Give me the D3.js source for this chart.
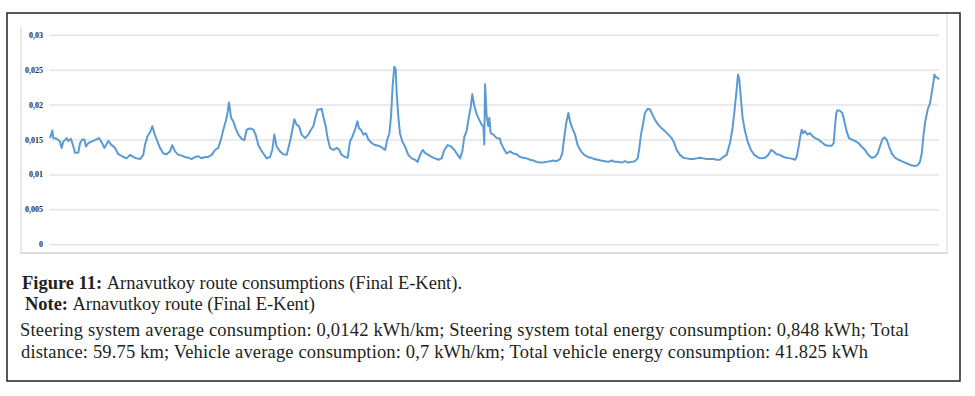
<!DOCTYPE html>
<html>
<head>
<meta charset="utf-8">
<script src="https://cdn.jsdelivr.net/npm/d3@7"></script>
<style>
  html, body { margin: 0; padding: 0; background: #fff; }
  svg { display: block; }
</style>
</head>
<body>
<svg id="chart" width="975" height="396"></svg>
<script>
// Distance along route (km) and steering system consumption (kWh/km)
const distanceKm = [
  0.00,0.16,0.22,0.45,0.67,0.78,0.90,1.12,1.23,1.41,1.57,1.68,1.90,2.02,2.17,2.31,2.42,2.58,2.80,3.02,
  3.29,3.47,3.65,3.92,4.14,4.37,4.59,4.93,5.15,5.38,5.60,5.82,6.05,6.27,6.38,6.56,6.72,6.88,7.01,7.17,
  7.39,7.62,7.84,8.07,8.22,8.40,8.63,8.85,9.07,9.30,9.52,9.75,9.97,10.19,10.42,10.64,10.87,11.09,11.31,11.49,
  11.65,11.81,11.92,12.03,12.17,12.32,12.48,12.66,12.88,13.06,13.22,13.44,13.67,13.82,14.00,14.18,14.34,14.56,14.79,14.94,
  15.08,15.23,15.46,15.68,15.91,16.13,16.29,16.42,16.58,16.74,16.91,17.14,17.36,17.54,17.70,17.86,17.99,18.15,18.26,18.37,
  18.53,18.66,18.82,19.04,19.27,19.42,19.60,19.83,20.01,20.16,20.32,20.50,20.66,20.77,20.90,21.06,21.22,21.40,21.62,21.84,
  22.07,22.29,22.52,22.67,22.81,22.92,23.03,23.14,23.23,23.30,23.41,23.52,23.68,23.86,24.08,24.31,24.53,24.71,24.87,25.05,
  25.20,25.43,25.65,25.88,26.10,26.32,26.50,26.73,26.95,27.18,27.40,27.56,27.71,27.85,28.00,28.16,28.29,28.38,28.52,28.68,
  28.90,29.02,29.13,29.19,29.24,29.35,29.46,29.53,29.62,29.80,30.02,30.24,30.31,30.47,30.69,30.92,31.14,31.36,31.59,31.81,
  32.04,32.26,32.48,32.71,32.93,33.16,33.38,33.61,33.83,34.05,34.28,34.43,34.57,34.70,34.84,34.95,35.11,35.29,35.46,35.69,
  35.91,36.14,36.36,36.58,36.81,37.03,37.30,37.53,37.75,37.97,38.20,38.42,38.65,38.87,39.09,39.32,39.50,39.61,39.72,39.83,
  39.99,40.17,40.33,40.48,40.66,40.89,41.11,41.33,41.56,41.78,41.96,42.12,42.34,42.57,42.79,43.01,43.24,43.46,43.69,43.91,
  44.13,44.36,44.58,44.81,45.03,45.25,45.48,45.70,45.86,45.99,46.13,46.24,46.33,46.44,46.55,46.71,46.89,47.11,47.34,47.61,
  47.83,48.06,48.28,48.46,48.62,48.84,49.06,49.29,49.51,49.74,49.96,50.07,50.18,50.30,50.41,50.52,50.63,50.74,50.92,51.08,
  51.24,51.42,51.64,51.87,52.09,52.31,52.54,52.67,52.76,52.85,52.94,53.10,53.25,53.39,53.54,53.70,53.88,54.10,54.33,54.55,
  54.78,55.00,55.22,55.45,55.63,55.78,55.94,56.07,56.23,56.39,56.57,56.79,57.02,57.24,57.46,57.69,57.91,58.14,58.31,58.47,
  58.59,58.70,58.81,58.99,59.15,59.26,59.37,59.44,59.53,59.62,59.75
];
const consumption = [
  .0152,.0163,.0152,.0151,.0147,.0138,.0147,.0152,.0148,.0151,.0140,.0131,.0131,.0145,.0150,.0150,.0140,.0145,.0147,.0149,
  .0152,.0146,.0138,.0148,.0142,.0138,.0129,.0125,.0123,.0128,.0125,.0123,.0122,.0128,.0142,.0155,.0160,.0169,.0159,.0150,
  .0138,.0130,.0129,.0133,.0142,.0133,.0128,.0127,.0125,.0124,.0122,.0125,.0126,.0123,.0125,.0125,.0128,.0135,.0138,.0150,
  .0164,.0176,.0186,.0203,.0181,.0176,.0166,.0157,.0151,.0149,.0164,.0166,.0164,.0157,.0142,.0135,.0130,.0123,.0125,.0135,
  .0157,.0140,.0133,.0129,.0128,.0147,.0164,.0179,.0171,.0169,.0157,.0152,.0157,.0164,.0169,.0183,.0193,.0193,.0194,.0183,
  .0169,.0152,.0138,.0135,.0138,.0136,.0128,.0125,.0124,.0147,.0154,.0164,.0176,.0166,.0164,.0157,.0159,.0150,.0145,.0142,
  .0141,.0139,.0135,.0150,.0159,.0183,.0227,.0254,.0251,.0217,.0183,.0159,.0147,.0140,.0128,.0123,.0121,.0118,.0128,.0135,
  .0131,.0128,.0125,.0123,.0121,.0123,.0135,.0142,.0140,.0135,.0128,.0123,.0133,.0154,.0162,.0183,.0198,.0215,.0198,.0186,
  .0176,.0171,.0169,.0143,.0229,.0183,.0169,.0181,.0159,.0157,.0152,.0151,.0145,.0138,.0130,.0133,.0130,.0129,.0125,.0124,
  .0123,.0121,.0120,.0118,.0117,.0117,.0118,.0119,.0120,.0119,.0122,.0130,.0154,.0174,.0188,.0176,.0166,.0157,.0142,.0133,
  .0128,.0125,.0124,.0122,.0121,.0120,.0119,.0118,.0120,.0118,.0118,.0117,.0119,.0117,.0118,.0119,.0123,.0138,.0157,.0169,
  .0188,.0194,.0193,.0186,.0178,.0171,.0166,.0162,.0157,.0152,.0145,.0135,.0128,.0124,.0123,.0122,.0122,.0123,.0124,.0123,
  .0122,.0122,.0122,.0121,.0121,.0125,.0128,.0145,.0164,.0188,.0217,.0243,.0236,.0207,.0181,.0162,.0147,.0135,.0128,.0124,
  .0123,.0124,.0128,.0135,.0133,.0129,.0128,.0125,.0124,.0123,.0122,.0121,.0125,.0138,.0152,.0164,.0159,.0162,.0157,.0159,
  .0155,.0152,.0150,.0146,.0142,.0141,.0141,.0145,.0169,.0188,.0192,.0191,.0188,.0176,.0162,.0152,.0150,.0148,.0145,.0140,
  .0135,.0128,.0124,.0125,.0130,.0140,.0150,.0153,.0150,.0140,.0130,.0124,.0121,.0119,.0117,.0115,.0113,.0112,.0113,.0118,
  .0130,.0154,.0174,.0193,.0202,.0217,.0231,.0243,.0239,.0239,.0236
];
const yTicks = [0, 0.005, 0.01, 0.015, 0.02, 0.025, 0.03];
const yTickLabels = ["0", "0,005", "0,01", "0,015", "0,02", "0,025", "0,03"];

const captionLines = [
  [{t: "Figure 11: ", b: true}, {t: "Arnavutkoy route consumptions (Final E-Kent).", b: false}],
  [{t: "Note: ", b: true}, {t: "Arnavutkoy route (Final E-Kent)", b: false}],
  [{t: "Steering system average consumption: 0,0142 kWh/km; Steering system total energy consumption: 0,848 kWh; Total", b: false}],
  [{t: "distance: 59.75 km; Vehicle average consumption: 0,7 kWh/km; Total vehicle energy consumption: 41.825 kWh", b: false}]
];

const svg = d3.select("#chart");

// outer frame
svg.append("rect").attr("x", 7).attr("y", 13).attr("width", 953).attr("height", 368)
  .attr("fill", "#fff").attr("stroke", "#222").attr("stroke-width", 1.5);

// inner chart image frame (light gray)
svg.append("line").attr("x1", 21).attr("x2", 21).attr("y1", 27).attr("y2", 253)
  .attr("stroke", "#e2e2e2").attr("stroke-width", 1.5);
svg.append("line").attr("x1", 947).attr("x2", 947).attr("y1", 14).attr("y2", 253)
  .attr("stroke", "#e6e6e6").attr("stroke-width", 1.5);
svg.append("line").attr("x1", 20).attr("x2", 948).attr("y1", 253).attr("y2", 253)
  .attr("stroke", "#dcdcdc").attr("stroke-width", 2);

const x = d3.scaleLinear().domain([0, 59.75]).range([50, 939]);
const y = d3.scaleLinear().domain([0, 0.03]).range([244.3, 34.7]);

const yAxis = d3.axisLeft(y)
  .tickValues(yTicks)
  .tickFormat((d, i) => yTickLabels[i])
  .tickSize(-(939 - 50))
  .tickPadding(7);

const gy = svg.append("g").attr("transform", "translate(50,0)").call(yAxis);
gy.select(".domain").remove();
gy.selectAll(".tick line").attr("stroke", "#e4e4e4").attr("stroke-width", 1.5);
gy.selectAll(".tick text")
  .attr("font-family", "'Liberation Serif', 'Times New Roman', serif")
  .attr("font-weight", "bold")
  .attr("font-size", 8)
  .style("fill", "#2b2b2b");

const data = distanceKm.map((d, i) => [d, consumption[i]]);
const line = d3.line().x(d => x(d[0])).y(d => y(d[1]));
svg.append("path").datum(data)
  .attr("d", line)
  .attr("fill", "none")
  .attr("stroke", "#5b9bd5")
  .attr("stroke-width", 2)
  .attr("stroke-linejoin", "round");

// caption
const capPos = [
  {x: 22, y: 289, w: 440},
  {x: 25, y: 310, w: 290},
  {x: 20, y: 336, w: 889},
  {x: 21, y: 358, w: 847}
];
captionLines.forEach((parts, i) => {
  const t = svg.append("text")
    .attr("x", capPos[i].x).attr("y", capPos[i].y)
    .attr("font-family", "'Liberation Serif', 'Times New Roman', serif")
    .attr("font-size", 18.5)
    .attr("fill", "#231f20")
    .attr("textLength", capPos[i].w)
    .attr("lengthAdjust", "spacing");
  parts.forEach(p => {
    t.append("tspan").attr("font-weight", p.b ? "bold" : "normal").text(p.t);
  });
});
</script>
</body>
</html>
